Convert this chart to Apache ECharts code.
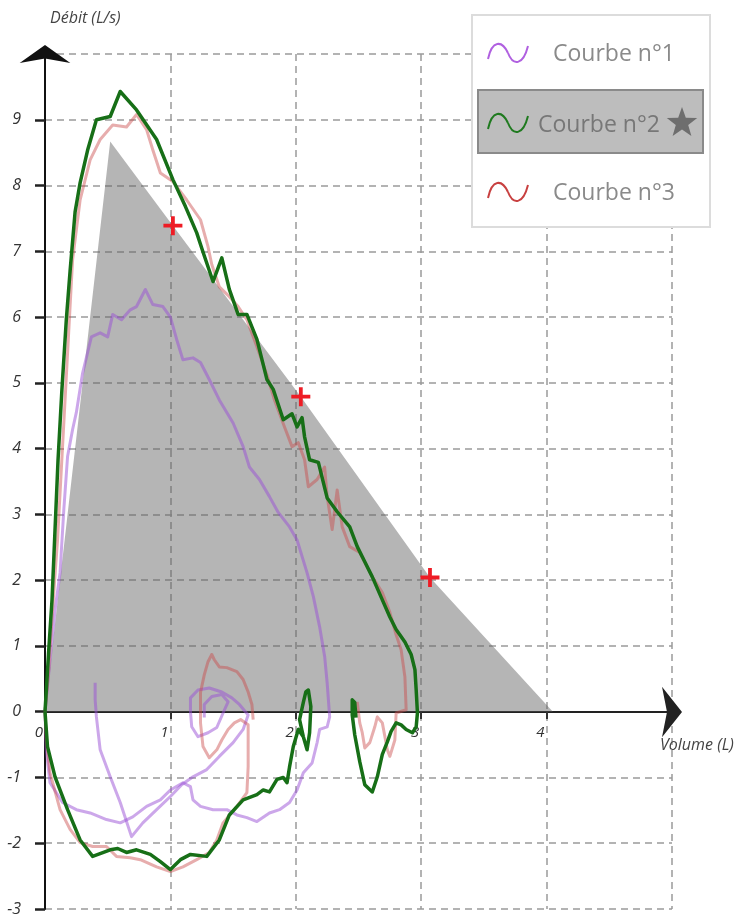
<!DOCTYPE html>
<html>
<head>
<meta charset="utf-8">
<script src="https://cdn.jsdelivr.net/npm/echarts@6/dist/echarts.min.js"></script>
<style>
html,body{margin:0;padding:0;background:#fff;}
#chart{width:745px;height:918px;}
</style>
</head>
<body>
<div id="chart"></div>
<script>
// ---- Data (volume L, flow L/s) ----
const seriesNames = ['Courbe n°1', 'Courbe n°2', 'Courbe n°3'];
const xTickLabels = ['0', '1', '2', '3', '4', ''];
const yTickLabels = ['-3','-2','-1','0','1','2','3','4','5','6','7','8','9',''];

const predictedArea = [[0,0],[0.52,8.67],[1.02,7.39],[2.04,4.79],[3.07,2.04],[4.05,0]];
const predictedPoints = [[1.02,7.39],[2.04,4.79],[3.07,2.04]];

const c2Expi = [[0,0],[0.016,0.49],[0.03,0.94],[0.056,1.70],[0.08,2.77],[0.104,3.83],[0.135,4.90],[0.17,5.96],[0.20,6.70],[0.24,7.60],[0.28,8.04],[0.34,8.54],[0.41,9.0],[0.52,9.05],[0.60,9.43],[0.73,9.15],[0.89,8.70],[1.02,8.09],[1.12,7.68],[1.21,7.28],[1.26,6.99],[1.34,6.54],[1.41,6.90],[1.47,6.42],[1.54,6.04],[1.61,6.04],[1.69,5.66],[1.77,5.05],[1.82,4.90],[1.90,4.44],[1.97,4.53],[2.01,4.33],[2.05,4.47],[2.07,4.18],[2.11,3.83],[2.18,3.79],[2.25,3.25],[2.33,3.04],[2.43,2.81],[2.49,2.51],[2.55,2.28],[2.61,2.05],[2.69,1.70],[2.75,1.44],[2.80,1.25],[2.87,1.06],[2.92,0.87],[2.95,0.64],[2.96,0.33],[2.97,-0.02],[2.96,-0.23],[2.93,-0.32],[2.88,-0.27],[2.84,-0.20],[2.80,-0.17],[2.76,-0.30],[2.73,-0.46],[2.69,-0.65],[2.65,-0.99],[2.61,-1.22],[2.55,-1.11],[2.51,-0.76],[2.47,-0.35],[2.45,-0.05],[2.45,0.18],[2.47,0.14],[2.48,-0.09]];
const c2Inspi = [[2.06,-0.38],[2.03,-0.12],[2.06,0.14],[2.08,0.30],[2.10,0.33],[2.12,0.08],[2.11,-0.32],[2.09,-0.58],[2.06,-0.38],[2.02,-0.27],[1.98,-0.53],[1.95,-0.84],[1.93,-1.08],[1.90,-1.00],[1.85,-1.03],[1.79,-1.22],[1.74,-1.19],[1.69,-1.26],[1.58,-1.34],[1.47,-1.57],[1.39,-1.95],[1.29,-2.20],[1.16,-2.17],[1.08,-2.25],[1.00,-2.40],[0.92,-2.28],[0.84,-2.17],[0.73,-2.10],[0.65,-2.14],[0.58,-2.08],[0.52,-2.10],[0.38,-2.20],[0.28,-1.95],[0.18,-1.49],[0.08,-0.99],[0.02,-0.53],[0,0]];

const c3Expi = [[0,0],[0.03,0.64],[0.06,1.55],[0.10,2.61],[0.13,3.68],[0.16,4.74],[0.19,5.81],[0.22,6.87],[0.28,7.78],[0.36,8.39],[0.44,8.70],[0.54,8.92],[0.65,8.89],[0.73,9.08],[0.81,8.85],[0.86,8.54],[0.92,8.19],[1.02,8.06],[1.13,7.78],[1.24,7.48],[1.30,7.07],[1.33,6.80],[1.39,6.46],[1.47,6.31],[1.54,6.16],[1.61,5.96],[1.69,5.55],[1.77,5.12],[1.83,4.74],[1.91,4.33],[1.97,4.03],[2.02,4.09],[2.07,3.83],[2.10,3.42],[2.17,3.53],[2.23,3.72],[2.25,3.27],[2.29,2.77],[2.33,3.37],[2.37,2.81],[2.43,2.51],[2.51,2.42],[2.61,2.05],[2.69,1.81],[2.75,1.51],[2.80,1.17],[2.84,0.94],[2.87,0.53],[2.88,0.03],[2.80,-0.02],[2.79,-0.43],[2.75,-0.68],[2.73,-0.58],[2.69,-0.17],[2.65,-0.08],[2.63,-0.23],[2.59,-0.47],[2.55,-0.55],[2.53,-0.32],[2.51,-0.17],[2.49,0.15]];
const c3Inspi = [[1.66,-0.12],[1.65,0.11],[1.62,0.30],[1.58,0.49],[1.53,0.61],[1.45,0.67],[1.39,0.68],[1.35,0.79],[1.33,0.87],[1.30,0.76],[1.27,0.56],[1.24,0.29],[1.24,-0.17],[1.26,-0.53],[1.31,-0.70],[1.37,-0.58],[1.41,-0.43],[1.46,-0.27],[1.51,-0.17],[1.56,-0.12],[1.62,-0.20],[1.62,-0.84],[1.61,-1.23],[1.53,-1.44],[1.42,-1.69],[1.37,-1.95],[1.31,-2.14],[1.21,-2.25],[1.10,-2.36],[1.00,-2.43],[0.89,-2.36],[0.76,-2.25],[0.68,-2.22],[0.57,-2.20],[0.49,-2.05],[0.38,-2.05],[0.28,-1.99],[0.20,-1.79],[0.12,-1.49],[0.04,-0.93],[0.01,-0.43],[0,0]];

const c1Loop = [[0,0],[0.04,0.79],[0.08,1.55],[0.12,2.11],[0.15,3.07],[0.18,3.88],[0.22,4.29],[0.25,4.55],[0.30,5.15],[0.37,5.70],[0.44,5.76],[0.50,5.70],[0.54,6.04],[0.61,5.96],[0.68,6.11],[0.73,6.16],[0.80,6.42],[0.86,6.19],[0.94,6.16],[1.00,6.00],[1.05,5.66],[1.10,5.35],[1.18,5.38],[1.24,5.31],[1.31,5.05],[1.39,4.74],[1.50,4.39],[1.58,4.03],[1.63,3.72],[1.71,3.53],[1.79,3.27],[1.86,3.03],[1.95,2.81],[2.01,2.61],[2.09,2.11],[2.14,1.75],[2.19,1.29],[2.23,0.84],[2.25,0.44],[2.27,-0.08],[2.25,-0.23],[2.19,-0.27],[2.17,-0.47],[2.13,-0.78],[2.06,-0.93],[2.01,-1.19],[1.95,-1.38],[1.87,-1.49],[1.79,-1.54],[1.69,-1.67],[1.61,-1.61],[1.53,-1.57],[1.45,-1.49],[1.34,-1.49],[1.24,-1.44],[1.18,-1.34],[1.16,-1.14],[1.10,-1.08],[1.00,-1.19],[0.92,-1.34],[0.81,-1.44],[0.70,-1.60],[0.60,-1.69],[0.49,-1.64],[0.36,-1.54],[0.25,-1.49],[0.14,-1.38],[0.04,-1.08],[0.01,-0.58],[0,0]];
const c1Extra = [[0.40,0.44],[0.40,0.18],[0.41,-0.08],[0.44,-0.58],[0.52,-0.99],[0.60,-1.38],[0.69,-1.90],[0.78,-1.69],[0.89,-1.49],[1.00,-1.29],[1.09,-1.11],[1.18,-0.99],[1.29,-0.88],[1.39,-0.68],[1.50,-0.47],[1.58,-0.27],[1.62,-0.05],[1.55,0.11],[1.49,0.21],[1.41,0.30],[1.31,0.36],[1.22,0.33],[1.16,0.21],[1.16,0],[1.17,-0.23],[1.22,-0.38],[1.30,-0.32],[1.37,-0.24],[1.42,-0.02],[1.46,0.15],[1.41,0.26],[1.33,0.23],[1.27,0.11],[1.27,-0.09]];

// ---- Chart ----
const chart = echarts.init(document.getElementById('chart'), null, {renderer:'canvas'});
const FONT = 'Open Sans';
const purple = '#9a4fd6', green = '#176f17', red = '#c94a4a';
function lineSeries(name, data, color, width, opacity, z) {
  return {type:'line', name, data, showSymbol:false, symbol:'none', smooth:false, z,
    lineStyle:{color, width, opacity, join:'round'}, silent:true, animation:false};
}
function waveIcon(yc, color) {
  return [
    {type:'bezierCurve', z:12, shape:{x1:488, y1:yc+6, cpx1:492, cpy1:yc-13, cpx2:502, cpy2:yc-13, x2:508, y2:yc},
      style:{fill:null, stroke:color, lineWidth:2}},
    {type:'bezierCurve', z:12, shape:{x1:508, y1:yc, cpx1:513, cpy1:yc+13, cpx2:523, cpy2:yc+13, x2:528, y2:yc-7},
      style:{fill:null, stroke:color, lineWidth:2}}
  ];
}
const starPts = [[682,107],[685.8,117.7],[697.2,118.1],[688.2,125],[691.4,135.9],[682,129.5],[672.6,135.9],[675.8,125],[666.8,118.1],[678.2,117.7]];

chart.setOption({
  animation:false,
  backgroundColor:'#fff',
  grid:{left:45, right:73, top:54, bottom:9, containLabel:false, outerBoundsMode:'none'},
  xAxis:{
    type:'value', min:0, max:5, interval:1, position:'bottom', offset:-197,
    name:'Volume (L)', nameLocation:'end', nameGap:-12,
    nameTextStyle:{fontFamily:FONT, fontStyle:'italic', fontSize:16, color:'#444', align:'left', verticalAlign:'top', padding:[25,0,0,0]},
    axisLine:{onZero:false, lineStyle:{color:'#222', width:2}, symbol:['none','arrow'], symbolSize:[38,20], symbolOffset:[0,10]},
    axisTick:{show:true, length:7, lineStyle:{color:'#333', width:2}},
    axisLabel:{formatter:(v)=>xTickLabels[Math.round(v)], fontFamily:FONT, fontStyle:'italic', fontSize:15, color:'#333', margin:13, align:'right', padding:[0,2,0,0]},
    splitLine:{show:true, lineStyle:{color:'#9a9a9a', width:1.5, type:[7,5]}}
  },
  yAxis:{
    type:'value', min:-3, max:10, interval:1,
    name:'Débit (L/s)', nameLocation:'end', nameGap:28,
    nameTextStyle:{fontFamily:FONT, fontStyle:'italic', fontSize:16, color:'#444', align:'left', padding:[0,0,0,5]},
    axisLine:{onZero:false, lineStyle:{color:'#111', width:2}, symbol:['none','arrow'], symbolSize:[38,18], symbolOffset:[0,9]},
    axisTick:{show:true, length:10, lineStyle:{color:'#222', width:2.5}},
    axisLabel:{formatter:(v)=>yTickLabels[Math.round(v)+3], fontFamily:FONT, fontStyle:'italic', fontSize:16, color:'#333', margin:24},
    splitLine:{show:true, lineStyle:{color:'#9a9a9a', width:1.5, type:[7,5]}}
  },
  series:[
    {type:'line', name:'prédit', data:predictedArea, showSymbol:false, symbol:'none', z:1, silent:true,
      lineStyle:{width:0}, areaStyle:{color:'#646464', opacity:0.48, origin:0}},
    lineSeries(seriesNames[0], c1Loop, purple, 3, 0.5, 2),
    lineSeries(seriesNames[0], c1Extra, purple, 3, 0.5, 2),
    lineSeries(seriesNames[2], c3Expi, red, 3, 0.45, 3),
    lineSeries(seriesNames[2], c3Inspi, red, 3, 0.45, 3),
    lineSeries(seriesNames[1], c2Expi, green, 3.5, 1, 4),
    lineSeries(seriesNames[1], c2Inspi, green, 3.5, 1, 4),
    {type:'scatter', name:'points', data:predictedPoints, z:5, silent:true,
      symbol:'path://M4,0h2v4h4v2h-4v4h-2v-4h-4v-2h4z', symbolSize:19,
      itemStyle:{color:'#ee1c25', opacity:1}}
  ],
  graphic:[
    {type:'rect', z:10, shape:{x:472, y:15, width:238, height:212}, style:{fill:'#fff', stroke:'#dcdcdc', lineWidth:2}},
    ...waveIcon(53, '#b060e0'),
    {type:'text', z:11, x:553, y:54, style:{text:seriesNames[0], fontFamily:FONT, fontSize:23, fill:'#8a8a8a', verticalAlign:'middle'}},
    {type:'rect', z:11, shape:{x:478, y:90, width:225, height:63}, style:{fill:'#bdbdbd', stroke:'#8a8a8a', lineWidth:2}},
    ...waveIcon(123, '#1f7a1f'),
    {type:'text', z:12, x:538, y:125, style:{text:seriesNames[1], fontFamily:FONT, fontSize:23, fill:'#777', verticalAlign:'middle'}},
    {type:'polygon', z:12, shape:{points:starPts}, style:{fill:'#6e6e6e'}},
    ...waveIcon(192, '#c84040'),
    {type:'text', z:11, x:553, y:193, style:{text:seriesNames[2], fontFamily:FONT, fontSize:23, fill:'#8a8a8a', verticalAlign:'middle'}}
  ]
});
</script>
</body>
</html>
